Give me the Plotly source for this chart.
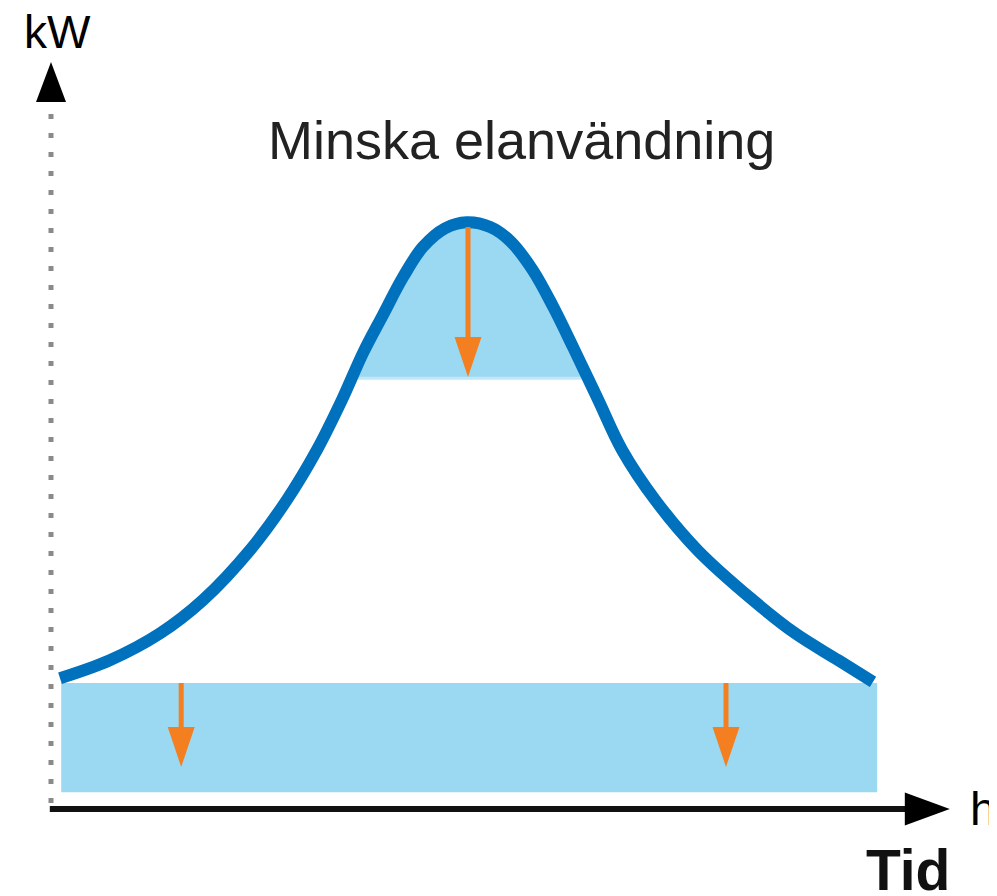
import plotly.graph_objects as go

# ---- data (hours, kW) ----
hours = [0.15, 0.98, 1.82, 2.53, 3.32, 3.93, 4.43, 4.85, 5.20, 5.53, 5.87, 6.20, 6.57, 6.93,
         7.32, 7.65, 8.03, 8.37, 8.70, 9.12, 9.52, 10.07, 10.77, 11.70, 12.40, 13.12, 13.70]
load_kw = [2.18, 2.48, 2.93, 3.48, 4.32, 5.15, 5.98, 6.82, 7.60, 8.23, 8.87, 9.37, 9.68, 9.78,
           9.70, 9.47, 8.98, 8.37, 7.70, 6.82, 5.98, 5.15, 4.32, 3.48, 2.93, 2.48, 2.12]
peak_cut_kw = 7.18                 # peak shaving level
base_band_hours = [0.17, 13.77]    # base-load reduction band (time span)
base_band_kw = [0.28, 2.10]        # base-load reduction band (kW span)
arrow_hours = [6.95, 2.17, 11.25]
arrow_from_kw = [9.70, 2.10, 2.10]
arrow_to_kw = [7.20, 0.70, 0.70]

title_text = "Minska elanvändning"
y_label = "kW"
x_unit = "h"
x_label = "Tid"

# ---- styles ----
PX = 60.0      # pixels per unit (both axes)
OX, OY = 51, 809   # window pixel of data origin
PAGE = 8       # body margin of the page
W, H = 997, 896
BLUE = "#0071BC"
LIGHT = "#9BD9F2"
ORANGE = "#F47F20"
FONT = "Liberation Sans, Arial, sans-serif"

fig = go.Figure()

# base band
fig.add_trace(go.Scatter(
    x=[base_band_hours[0], base_band_hours[1], base_band_hours[1], base_band_hours[0]],
    y=[base_band_kw[0], base_band_kw[0], base_band_kw[1], base_band_kw[1]],
    fill="toself", fillcolor=LIGHT, mode="lines", line=dict(width=0), hoverinfo="skip"))

# peak fill region above cut level
def crossing(i0, i1):
    x0, y0, x1, y1 = hours[i0], load_kw[i0], hours[i1], load_kw[i1]
    return x0 + (peak_cut_kw - y0) * (x1 - x0) / (y1 - y0)

above = [i for i, v in enumerate(load_kw) if v >= peak_cut_kw]
li, ri = above[0], above[-1]
fx = [crossing(li - 1, li)] + [hours[i] for i in above] + [crossing(ri, ri + 1)]
fy = [peak_cut_kw] + [load_kw[i] for i in above] + [peak_cut_kw]
fig.add_trace(go.Scatter(x=fx, y=fy, fill="toself", fillcolor=LIGHT, mode="lines",
                         line=dict(width=0, shape="spline"), hoverinfo="skip"))
fig.add_trace(go.Scatter(x=[fx[0] + 0.1, fx[-1] - 0.1], y=[peak_cut_kw, peak_cut_kw], mode="lines",
                         line=dict(color="#C2E7F7", width=3), hoverinfo="skip"))

# load curve
fig.add_trace(go.Scatter(x=hours, y=load_kw, mode="lines",
                         line=dict(color=BLUE, width=12, shape="spline", smoothing=1.0),
                         hoverinfo="skip"))

# orange arrows
head_len = 40 / PX
head_w = 27 / PX
for xa, y0, y1 in zip(arrow_hours, arrow_from_kw, arrow_to_kw):
    fig.add_trace(go.Scatter(x=[xa, xa], y=[y0, y1 + head_len * 0.5], mode="lines",
                             line=dict(color=ORANGE, width=5), hoverinfo="skip"))
    fig.add_trace(go.Scatter(x=[xa - head_w / 2, xa + head_w / 2, xa, xa - head_w / 2],
                             y=[y1 + head_len, y1 + head_len, y1, y1 + head_len],
                             fill="toself", fillcolor=ORANGE, mode="lines",
                             line=dict(width=0), hoverinfo="skip"))

# axes: dotted y axis, solid x axis, arrowheads
y_top = 11.68
fig.add_trace(go.Scatter(x=[0, 0], y=[0.1, y_top], mode="lines",
                         line=dict(color="#8A8A8A", width=5, dash="5px,14px"), hoverinfo="skip"))
x_end = 14.25
fig.add_trace(go.Scatter(x=[-0.02, x_end], y=[0, 0], mode="lines",
                         line=dict(color="#111111", width=6), hoverinfo="skip"))
# y arrowhead
yt = 12.45
ah_l, ah_w = 40 / PX, 30 / PX
fig.add_trace(go.Scatter(x=[-ah_w / 2, ah_w / 2, 0, -ah_w / 2],
                         y=[yt - ah_l, yt - ah_l, yt, yt - ah_l],
                         fill="toself", fillcolor="#000000", mode="lines",
                         line=dict(width=0), hoverinfo="skip"))
# x arrowhead
xt = 14.98
bh_l, bh_w = 45 / PX, 33 / PX
fig.add_trace(go.Scatter(x=[xt - bh_l, xt - bh_l, xt, xt - bh_l],
                         y=[-bh_w / 2, bh_w / 2, 0, -bh_w / 2],
                         fill="toself", fillcolor="#000000", mode="lines",
                         line=dict(width=0), hoverinfo="skip"))

# texts (positions given in window pixels)
def px2x(p):
    return (p - OX) / PX

def px2y(p):
    return (OY - p) / PX

fig.add_annotation(x=px2x(521), y=px2y(140), text=title_text, showarrow=False,
                   font=dict(family=FONT, size=54, color="#222222"),
                   xanchor="center", yanchor="middle")
fig.add_annotation(x=px2x(22), y=px2y(32), text=y_label, showarrow=False,
                   font=dict(family=FONT, size=46, color="#000000"),
                   xanchor="left", yanchor="middle")
fig.add_annotation(x=px2x(968), y=px2y(808), text=x_unit, showarrow=False,
                   font=dict(family=FONT, size=47, color="#000000"),
                   xanchor="left", yanchor="middle")
fig.add_annotation(x=px2x(864), y=px2y(870), text="<b>" + x_label + "</b>", showarrow=False,
                   font=dict(family=FONT, size=57, color="#111111"),
                   xanchor="left", yanchor="middle")

fig.update_layout(
    width=W, height=H,
    margin=dict(l=0, r=0, t=0, b=0),
    paper_bgcolor="white", plot_bgcolor="white",
    showlegend=False,
    xaxis=dict(range=[(PAGE - OX) / PX, (PAGE + W - OX) / PX], visible=False, fixedrange=True),
    yaxis=dict(range=[(OY - PAGE - H) / PX, (OY - PAGE) / PX], visible=False, fixedrange=True),
)

fig.write_html("out.html")
